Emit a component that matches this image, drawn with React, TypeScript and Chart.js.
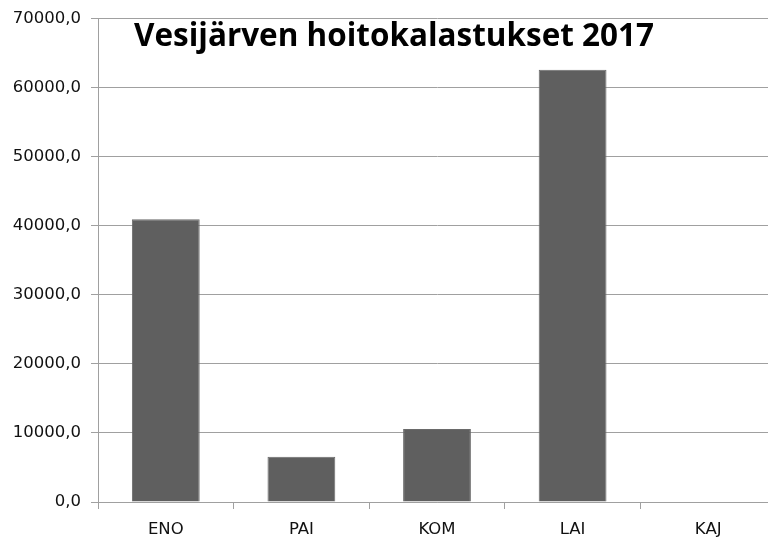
import React, { useEffect, useRef } from "react";
import { Chart, registerables } from "chart.js";

Chart.register(...registerables);

const categories: string[] = ["ENO", "PAI", "KOM", "LAI", "KAJ"];
const values: number[] = [40900, 6550, 10550, 62550, 0];
const yTicks: number[] = [0, 10000, 20000, 30000, 40000, 50000, 60000, 70000];
const titleText = "Vesijärven hoitokalastukset 2017";

const titlePlugin = {
  id: "innerTitle",
  afterDraw(chart: any) {
    const ctx = chart.ctx as CanvasRenderingContext2D;
    ctx.save();
    ctx.font = "bold 33px 'Open Sans'";
    ctx.fillStyle = "#000000";
    ctx.textBaseline = "alphabetic";
    ctx.textAlign = "left";
    const w = ctx.measureText(titleText).width;
    const targetW = 520;
    const x = chart.chartArea.left + 36;
    ctx.translate(x, 46);
    ctx.scale(targetW / w, 1);
    ctx.fillText(titleText, 0, 0);
    ctx.restore();
  },
};

export default function App() {
  const ref = useRef<HTMLCanvasElement | null>(null);
  useEffect(() => {
    document.body.style.margin = "0";
    document.body.style.overflow = "hidden";
    const c = ref.current!;
    const chart = new Chart(c, {
      type: "bar",
      data: {
        labels: categories,
        datasets: [
          {
            data: values,
            backgroundColor: "#5f5f5f",
            borderColor: "#6a6a6a",
            borderWidth: 1,
            barPercentage: 0.5,
            categoryPercentage: 1,
          },
        ],
      },
      options: {
        animation: false,
        responsive: false,
        maintainAspectRatio: false,
        layout: { padding: { top: 17, right: 0, left: 0, bottom: 0 } },
        plugins: {
          legend: { display: false },
          title: { display: false },
          tooltip: { enabled: false },
        },
        scales: {
          x: {
            grid: {
              display: true,
              drawOnChartArea: false,
              drawTicks: true,
              tickLength: 7,
              color: "#a0a0a0",
              offset: true,
            },
            border: { display: true, color: "#a0a0a0", width: 1 },
            ticks: {
              color: "#111111",
              font: { family: "'DejaVu Sans'", size: 16.5 },
              padding: 11,
              maxRotation: 0,
            },
            afterFit: (s: any) => {
              s.height = 39;
            },
          },
          y: {
            min: 0,
            max: 70000,
            afterBuildTicks: (s: any) => {
              s.ticks = yTicks.map((v) => ({ value: v }));
            },
            grid: {
              color: "#a0a0a0",
              tickLength: 7,
              drawTicks: true,
            },
            border: { display: true, color: "#a0a0a0", width: 1 },
            ticks: {
              color: "#111111",
              font: { family: "'DejaVu Sans'", size: 16.5, lineHeight: 1 },
              padding: 10,
              callback: (v: any) => Number(v).toFixed(1).replace(".", ","),
            },
            afterFit: (s: any) => {
              s.width = 98;
            },
          },
        },
      },
      plugins: [titlePlugin],
    });
    return () => chart.destroy();
  }, []);
  return (
    <div style={{ width: 768, height: 541, overflow: "hidden", background: "#ffffff" }}>
      <canvas ref={ref} width={776} height={541} style={{ display: "block", width: 776, height: 541 }} />
    </div>
  );
}
